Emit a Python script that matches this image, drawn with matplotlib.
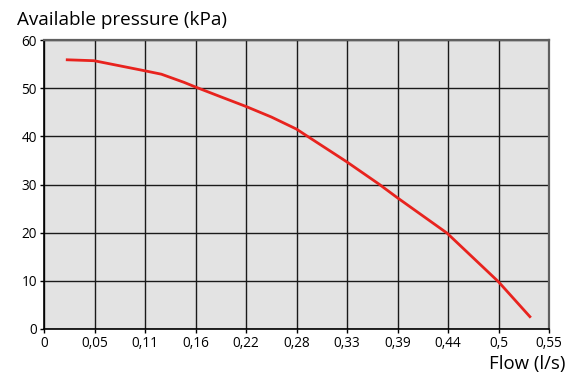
import matplotlib
matplotlib.use("Agg")
import matplotlib.pyplot as plt
import numpy as np

# pump curve: flow in l/s, available pressure in kPa
flow = [0.024, 0.055, 0.111, 0.129, 0.154, 0.167, 0.193, 0.222, 0.250,
        0.2775, 0.288, 0.332, 0.368, 0.388, 0.443, 0.4995, 0.535]
pressure = [55.9, 55.7, 53.6, 52.9, 51.2, 50.2, 48.3, 46.2, 44.0,
            41.5, 40.2, 34.8, 30.1, 27.3, 19.9, 9.8, 2.35]

x_tick_labels = ['0', '0,05', '0,11', '0,16', '0,22', '0,28',
                 '0,33', '0,39', '0,44', '0,5', '0,55']
y_ticks = [0, 10, 20, 30, 40, 50, 60]

plt.rcParams['font.family'] = ['Open Sans', 'DejaVu Sans']

fig = plt.figure(figsize=(5.69, 3.76), dpi=100)
ax = fig.add_axes([44 / 569, 1 - 329 / 376, 505 / 569, 289 / 376])
ax.set_facecolor('#e3e3e3')

step = 0.0555
x_ticks = np.arange(len(x_tick_labels)) * step
ax.set_xlim(0, x_ticks[-1])
ax.set_ylim(0, 60)
ax.set_xticks(x_ticks)
ax.set_xticklabels(x_tick_labels)
ax.set_yticks(y_ticks)

ax.grid(True, color='#1a1a1a', linewidth=1.0)
ax.set_axisbelow(True)
for side in ['top', 'right']:
    ax.spines[side].set_color('#606060')
    ax.spines[side].set_linewidth(1.6)
for side in ['left', 'bottom']:
    ax.spines[side].set_color('black')
    ax.spines[side].set_linewidth(1.2)

ax.tick_params(axis='both', labelsize=9.8, length=3, width=1, colors='black', pad=2)

ax.plot(flow, pressure, color='#e8231e', linewidth=2.0,
        solid_capstyle='butt', solid_joinstyle='round')

fig.text(17 / 569, 1 - 20 / 376, 'Available pressure (kPa)', fontsize=13.6,
         va='center', ha='left')
fig.text(565 / 569, 1 - 364 / 376, 'Flow (l/s)', fontsize=13.4,
         va='center', ha='right')

fig.savefig('out.png', dpi=100)
